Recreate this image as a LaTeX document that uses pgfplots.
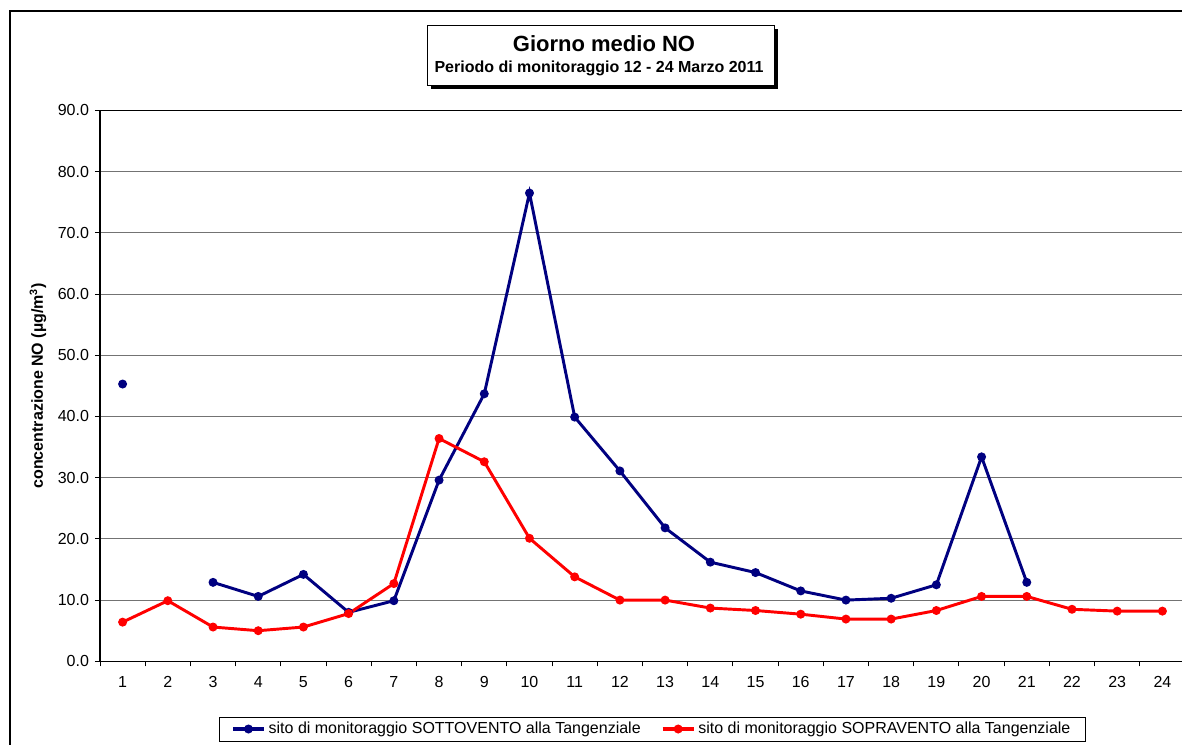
\documentclass[border=0pt]{standalone}
\usepackage{fontspec}
\setmainfont{Liberation Sans}
\usepackage{pgfplots}
\pgfplotsset{compat=1.18}
\definecolor{bluenavy}{RGB}{0,0,128}
\definecolor{redline}{RGB}{255,0,0}
\begin{document}
\begin{tikzpicture}
\useasboundingbox (0,0) rectangle (886.5pt,-558pt);
\clip (0,0) rectangle (886.5pt,-558pt);
\fill[white] (0,0) rectangle (886.5pt,-558pt);
\begin{scope}[x=0.75pt,y=-0.75pt]
\draw[line width=1.5pt] (10,11) rectangle (1220,800);
\end{scope}
\begin{axis}[
  scale only axis,
  width=813.75pt, height=413.175pt,
  at={(75pt,-495.975pt)}, anchor=south west,
  xmin=0.5, xmax=24.5, ymin=0, ymax=90,
  xtick={1,...,24},
  minor xtick={0.5,1.5,...,24.5},
  major x tick style={draw=none},
  ytick={0,10,...,90},
  tick align=outside,
  major tick length=3.75pt, minor tick length=3.75pt,
  xtick pos=bottom, ytick pos=left,
  ymajorgrids,
  grid style={line width=0.75pt, color=black!55},
  axis line style={line width=1.1pt, black},
  every tick/.style={line width=0.75pt, black},
  yticklabel style={/pgf/number format/fixed, /pgf/number format/fixed zerofill, /pgf/number format/precision=1, xshift=-1pt},
  /pgf/number format/assume math mode=true,
  ticklabel style={font=\fontsize{12}{14}\selectfont},
  xticklabel style={yshift=-4pt},
  ylabel={\textbf{concentrazione NO (µg/m\textsuperscript{3})}},
  ylabel style={font=\fontsize{12}{14}\selectfont, at={(axis description cs:-0.0571,0.5)}, anchor=center},
  unbounded coords=jump,
  legend columns=2,
  legend style={at={(axis description cs:0.5088,-0.1229)}, anchor=center,
    draw=black, font=\fontsize{12}{14}\selectfont,
    inner xsep=9pt, inner ysep=2pt,
    /tikz/every even column/.append style={column sep=13pt},
    nodes={inner xsep=2pt, inner ysep=2pt}},
  legend image code/.code={%
    \draw[#1, mark=none, line width=3pt] (0pt,0pt) -- (23.25pt,0pt);
    \draw[#1, only marks] plot coordinates {(11.6pt,0pt)};
  },
]
\addplot[bluenavy, line width=2.2pt, mark=*, mark size=2.2pt, mark options={solid}] coordinates {
(1,45.3) (2,nan) (3,12.9) (4,10.6) (5,14.2) (6,8.0) (7,9.9) (8,29.6) (9,43.7) (10,76.5)
(11,39.9) (12,31.1) (13,21.8) (14,16.2) (15,14.5) (16,11.5) (17,10.0) (18,10.3) (19,12.5)
(20,33.4) (21,12.9)
};
\addlegendentry{sito di monitoraggio SOTTOVENTO alla Tangenziale}
\addplot[redline, line width=2.2pt, mark=*, mark size=2.2pt, mark options={solid}] coordinates {
(1,6.4) (2,9.9) (3,5.6) (4,5.0) (5,5.6) (6,7.8) (7,12.7) (8,36.4) (9,32.6) (10,20.1)
(11,13.8) (12,10.0) (13,10.0) (14,8.7) (15,8.3) (16,7.7) (17,6.9) (18,6.9) (19,8.3)
(20,10.6) (21,10.6) (22,8.5) (23,8.2) (24,8.2)
};
\addlegendentry{sito di monitoraggio SOPRAVENTO alla Tangenziale}
\end{axis}
\begin{scope}[x=0.75pt,y=-0.75pt]
\fill[black] (431,29) rectangle (778,89);
\draw[fill=white, line width=0.6pt] (427,25) rectangle (774,85);
\node[anchor=base, inner sep=0pt, font=\fontsize{16.5}{19}\selectfont\bfseries] at (604,51) {Giorno medio NO};
\node[anchor=base, inner sep=0pt, font=\fontsize{12}{14}\selectfont\bfseries] at (599,72.3) {Periodo di monitoraggio 12 - 24 Marzo 2011};
\end{scope}
\end{tikzpicture}
\end{document}
